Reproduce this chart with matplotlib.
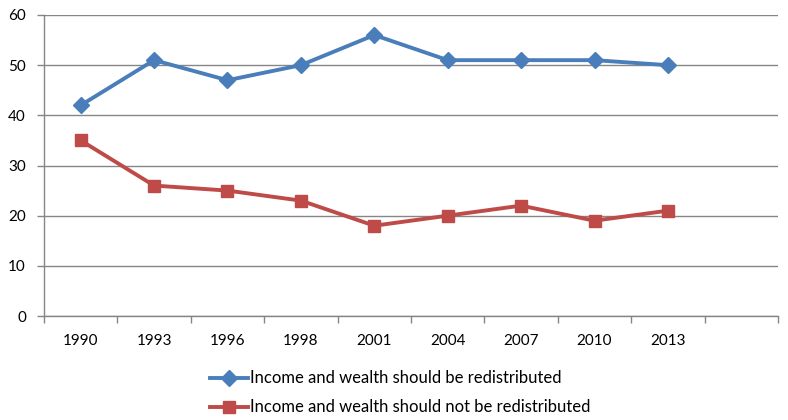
import matplotlib
matplotlib.use("Agg")
import matplotlib.pyplot as plt
from matplotlib.ticker import FixedLocator

years = ["1990", "1993", "1996", "1998", "2001", "2004", "2007", "2010", "2013"]
redistributed = [42, 51, 47, 50, 56, 51, 51, 51, 50]
not_redistributed = [35, 26, 25, 23, 18, 20, 22, 19, 21]
series_names = ["Income and wealth should be redistributed",
                "Income and wealth should not be redistributed"]

plt.rcParams['font.family'] = ['Lato', 'DejaVu Sans']

fig = plt.figure(figsize=(7.88, 4.2), dpi=100)
ax = fig.add_axes([44/788, 1-316/420, (778-44)/788, (316-15)/420])

x = list(range(len(years)))
blue = "#4A7EBB"
red = "#BE4B48"
ax.plot(x, redistributed, color=blue, lw=2.8, marker="D", ms=8,
        mfc=blue, mec=blue, label=series_names[0], zorder=3)
ax.plot(x, not_redistributed, color=red, lw=2.8, marker="s", ms=8.5,
        mfc=red, mec=red, label=series_names[1], zorder=3)

ax.set_xlim(-0.5, len(years) + 0.5)
ax.set_ylim(0, 60)
ax.set_yticks(range(0, 61, 10))
ax.set_xticks(x)
ax.set_xticklabels(years)
ax.xaxis.set_minor_locator(FixedLocator([i - 0.5 for i in range(len(years) + 2)]))
ax.tick_params(axis='x', which='major', length=0, pad=13, labelsize=11, colors='#000000')
ax.tick_params(axis='x', which='minor', length=5, width=1, color='#868686', direction='out')
ax.tick_params(axis='y', length=5, width=1, color='#868686', pad=8, labelsize=11)
ax.grid(axis='y', color='#868686', lw=1)
ax.set_axisbelow(True)
for s in ['top', 'right']:
    ax.spines[s].set_visible(False)
for s in ['left', 'bottom']:
    ax.spines[s].set_color('#868686')
    ax.spines[s].set_linewidth(1)

leg = fig.legend(loc='upper left', bbox_to_anchor=(202/788, 1-362/420),
                 frameon=False, fontsize=12, handlelength=2.25,
                 handletextpad=0.1, labelspacing=0.78, borderpad=0)

fig.savefig("out.png", dpi=100)
